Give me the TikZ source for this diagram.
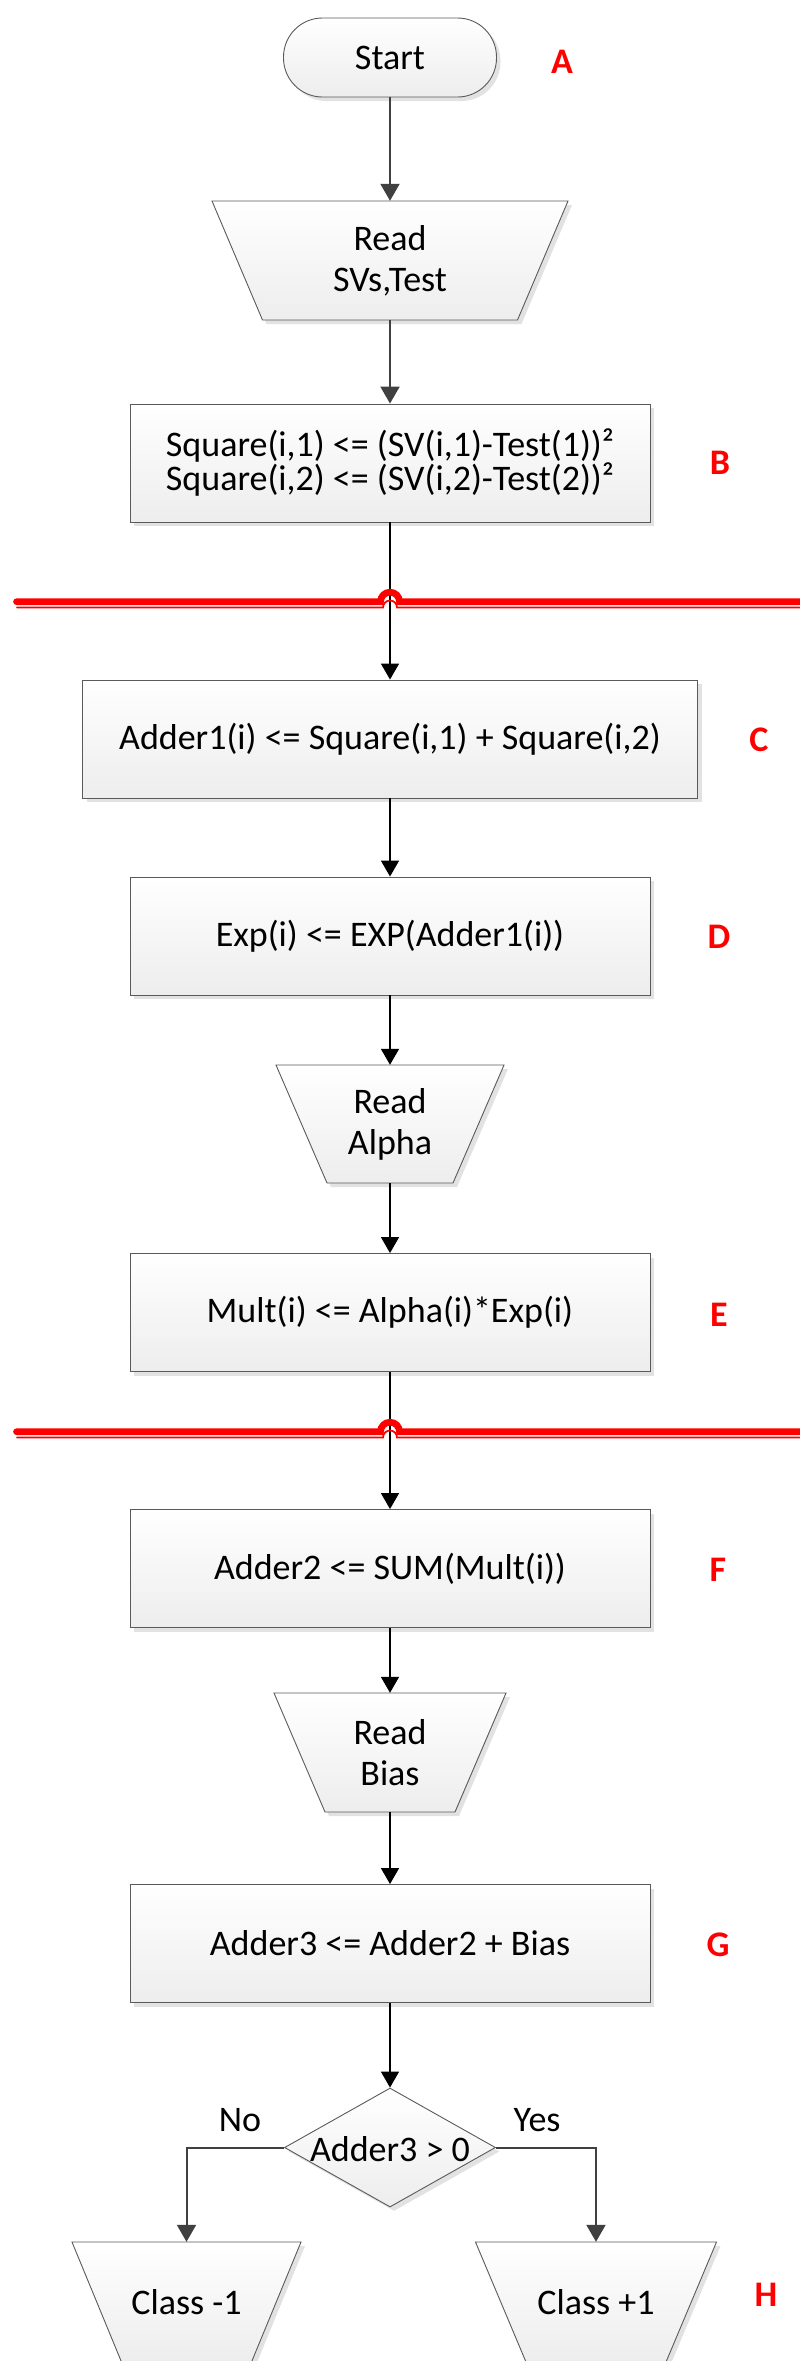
\documentclass[tikz,border=0pt]{standalone}
\usepackage{fontspec}
\setmainfont{Carlito}
\usetikzlibrary{arrows.meta,shapes.geometric,shadows}

\definecolor{edgegray}{HTML}{5A5A5A}
\definecolor{arrowgray}{HTML}{404040}
\definecolor{shadowgray}{HTML}{E2E2E2}
\definecolor{fillbottom}{HTML}{EDEDED}
\definecolor{cutred}{HTML}{FF0000}

\tikzset{
  basefont/.style={font=\fontsize{36}{41}\selectfont},
  flowshape/.style={draw=edgegray, line width=0.9pt, top color=white, bottom color=fillbottom,
    drop shadow={shadow xshift=4pt, shadow yshift=-4pt, fill=shadowgray, opacity=1, draw=none}},
  stepbox/.style={flowshape, rectangle, minimum width=520pt, minimum height=118pt,
    inner sep=0pt, align=center, basefont},
  startbox/.style={flowshape, rectangle, rounded corners=39pt, minimum width=213pt,
    minimum height=79pt, inner sep=0pt, basefont},
  decision/.style={flowshape, diamond, minimum width=211pt, minimum height=119pt, inner sep=0pt},
  traptext/.style={rectangle, inner sep=0pt, align=center, basefont},
  steplabel/.style={text=cutred, font=\bfseries\fontsize{36}{41}\selectfont},
  grayarrow/.style={draw=arrowgray, line width=2pt, -{Triangle[length=17pt,width=19pt]}},
  blackarrow/.style={draw=black, line width=1.6pt, -{Triangle[length=16pt,width=18pt]}},
  cutthick/.style={draw=cutred, line width=6.7pt, line cap=round},
  cutthin/.style={draw=cutred, line width=1.7pt, line cap=round},
}

% input/output trapezoid: centre x, top y, bottom y, half top width, half bottom width
\newcommand\iotrapezoid[5]{%
  \path[flowshape] ({#1-#4},{-#2}) -- ({#1+#4},{-#2}) -- ({#1+#5},{-#3}) -- ({#1-#5},{-#3}) -- cycle;}

% horizontal red cut line hopping over the main flow line at x = 390
\newcommand\cutline[1]{%
  \draw[cutthick] (16.5,{-#1}) -- (380.5,{-#1}) arc[start angle=180, end angle=0, radius=9.5] -- (815,{-#1});
  \draw[cutthin] (17,{-(#1+5.8)}) -- (383,{-(#1+5.8)}) arc[start angle=180, end angle=0, radius=7] -- (815,{-(#1+5.8)});}

\begin{document}
\begin{tikzpicture}[x=1pt, y=1pt]
\useasboundingbox (0,0) rectangle (800,-2361);

% shapes
\node[startbox] (start) at (390,-57.5) {Start};

\iotrapezoid{390}{201}{320}{178}{127.5}
\node[traptext, minimum width=356pt, minimum height=119pt] (readsv) at (390,-260.5) {Read\\SVs,Test};

\node[stepbox, font=\fontsize{36}{34}\selectfont] (square) at (390,-463) {Square(i,1) <= (SV(i,1)-Test(1))²\\Square(i,2) <= (SV(i,2)-Test(2))²};

\node[stepbox, minimum width=615pt] (adder1) at (390,-739) {Adder1(i) <= Square(i,1) + Square(i,2)};

\node[stepbox] (expo) at (390,-936) {Exp(i) <= EXP(Adder1(i))};

\iotrapezoid{390}{1065}{1183}{114}{63}
\node[traptext, minimum width=228pt, minimum height=118pt] (readalpha) at (390,-1124) {Read\\Alpha};

\node[stepbox] (mult) at (390,-1312.5) {Mult(i) <= Alpha(i)*Exp(i)};

\node[stepbox] (adder2) at (390,-1568.5) {Adder2 <= SUM(Mult(i))};

\iotrapezoid{390}{1693}{1812}{116}{65}
\node[traptext, minimum width=232pt, minimum height=119pt] (readbias) at (390,-1752.5) {Read\\Bias};

\node[stepbox] (adder3) at (390,-1943.5) {Adder3 <= Adder2 + Bias};

\node[decision] (test) at (390,-2147.5) {};
\node[basefont] (testtext) at (390,-2149) {Adder3 > 0};

\iotrapezoid{186.5}{2242}{2362}{114.5}{65}
\node[traptext, minimum width=229pt, minimum height=120pt] (classneg) at (186.5,-2302) {Class -1};

\iotrapezoid{596}{2242}{2362}{120.5}{70}
\node[traptext, minimum width=241pt, minimum height=120pt] (classpos) at (596,-2302) {Class +1};

% branch labels
\node[basefont] (nolabel) at (240,-2120) {No};
\node[basefont] (yeslabel) at (537,-2120) {Yes};

% step letters
\node[steplabel] (labela) at (562,-62) {A};
\node[steplabel] (labelb) at (720,-463) {B};
\node[steplabel] (labelc) at (759,-740) {C};
\node[steplabel] (labeld) at (719,-937) {D};
\node[steplabel] (labele) at (719,-1315) {E};
\node[steplabel] (labelf) at (718,-1570) {F};
\node[steplabel] (labelg) at (718,-1945) {G};
\node[steplabel] (labelh) at (766,-2295) {H};

% connectors
\draw[grayarrow] (start.south) -- (readsv.north);
\draw[grayarrow] (readsv.south) -- (square.north);
\draw[blackarrow] (square.south) -- (adder1.north);
\draw[blackarrow] (adder1.south) -- (expo.north);
\draw[blackarrow] (expo.south) -- (readalpha.north);
\draw[blackarrow] (readalpha.south) -- (mult.north);
\draw[blackarrow] (mult.south) -- (adder2.north);
\draw[blackarrow] (adder2.south) -- (readbias.north);
\draw[blackarrow] (readbias.south) -- (adder3.north);
\draw[blackarrow] (adder3.south) -- (test.north);
\draw[grayarrow] (test.west) -| (classneg.north);
\draw[grayarrow] (test.east) -| (classpos.north);

% red cut lines across the flow
\cutline{601.7}
\cutline{1431.7}
\end{tikzpicture}
\end{document}
